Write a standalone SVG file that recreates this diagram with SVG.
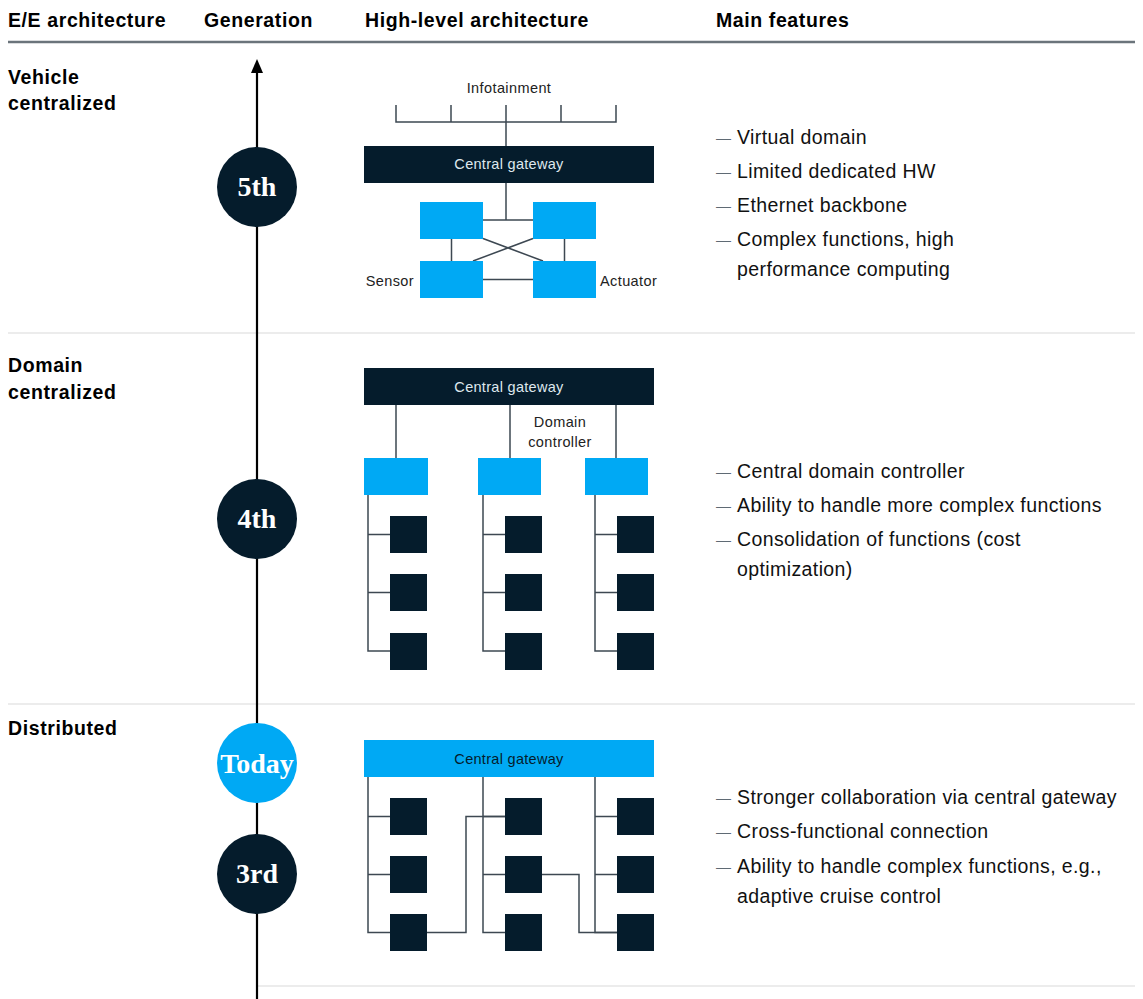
<svg xmlns="http://www.w3.org/2000/svg" width="1143" height="999" viewBox="0 0 1143 999">
<style>
.hdr{font-family:"Liberation Sans",Arial,sans-serif;font-weight:bold;font-size:19.5px;letter-spacing:0.6px;fill:#000}
.sec{font-family:"Liberation Sans",Arial,sans-serif;font-weight:bold;font-size:19.5px;letter-spacing:0.6px;fill:#000}
.feat{font-family:"Liberation Sans",Arial,sans-serif;font-size:19.5px;letter-spacing:0.4px;fill:#111}
.dash{font-family:"Liberation Sans",Arial,sans-serif;font-size:15px;fill:#5f6a74}
.lbl{font-family:"Liberation Sans",Arial,sans-serif;font-size:14.5px;letter-spacing:0.4px;fill:#222}
.gwt{font-family:"Liberation Sans",Arial,sans-serif;font-size:14.5px;letter-spacing:0.3px;fill:#dfe8ee;text-anchor:middle}
.gwtd{font-family:"Liberation Sans",Arial,sans-serif;font-size:14.5px;letter-spacing:0.3px;fill:#051c2c;text-anchor:middle}
.gen{font-family:"Liberation Serif","Times New Roman",serif;font-weight:bold;font-size:28px;fill:#fff;text-anchor:middle}
.dark{fill:#051c2c}
.blue{fill:#00a9f4}
.ln{stroke:#3d4852;stroke-width:1.5;fill:none}
.sep{stroke:#d9d9d9;stroke-width:1.2}
</style>
<rect width="1143" height="999" fill="#fff"/>

<g id="header">
<text class="hdr" x="8" y="27">E/E architecture</text>
<text class="hdr" x="204" y="27">Generation</text>
<text class="hdr" x="365" y="27">High-level architecture</text>
<text class="hdr" x="716" y="27">Main features</text>
<line x1="8" y1="42" x2="1135" y2="42" stroke="#6b747b" stroke-width="2.5"/>
</g>

<g id="separators">
<line class="sep" x1="8" y1="333" x2="1135" y2="333"/>
<line class="sep" x1="8" y1="704" x2="1135" y2="704"/>
<line class="sep" x1="258" y1="986" x2="1135" y2="986"/>
</g>

<g id="sections">
<text class="sec" x="8" y="84">Vehicle</text>
<text class="sec" x="8" y="110">centralized</text>
<text class="sec" x="8" y="372">Domain</text>
<text class="sec" x="8" y="399">centralized</text>
<text class="sec" x="8" y="735">Distributed</text>
</g>

<g id="timeline">
<line x1="257" y1="999" x2="257" y2="73" stroke="#000" stroke-width="2.2"/>
<path d="M251,73 L257,59 L263,73 Z" fill="#000"/>
</g>

<g id="gen-5th"><circle cx="257" cy="187" r="40" class="dark"/><text class="gen" x="257" y="196">5th</text></g>
<g id="gen-4th"><circle cx="257" cy="519" r="40" class="dark"/><text class="gen" x="257" y="528">4th</text></g>
<g id="gen-today"><circle cx="257" cy="763" r="40" class="blue"/><text class="gen" x="257" y="773">Today</text></g>
<g id="gen-3rd"><circle cx="257" cy="874" r="40" class="dark"/><text class="gen" x="257" y="883">3rd</text></g>

<g id="connectors">
<path class="ln" d="M396,105 V122 H616 V105 M451,105 V122 M506,105 V146 M561,105 V122"/>
<path class="ln" d="M506,183 V220 M483,220 H533"/>
<path class="ln" d="M451.5,239 V261 M564.5,239 V261 M483,279.5 H533"/>
<path class="ln" d="M483,238.5 L543,261 M533,238.5 L473,261"/>
<path class="ln" d="M396,404 V458 M510,404 V458 M616,404 V458"/>
<path class="ln" d="M368,495 V651 H390 M368,534.5 H390 M368,592.5 H390"/>
<path class="ln" d="M483,495 V651 H505 M483,534.5 H505 M483,592.5 H505"/>
<path class="ln" d="M595,495 V651 H617 M595,534.5 H617 M595,592.5 H617"/>
<path class="ln" d="M368,777 V932.5 H390 M368,816.5 H390 M368,874.5 H390"/>
<path class="ln" d="M483,777 V932.5 H505 M483,816.5 H505 M483,874.5 H505"/>
<path class="ln" d="M595,777 V932.5 H617 M595,816.5 H617 M595,874.5 H617"/>
<path class="ln" d="M427,932.5 H466 V816.5 H505"/>
<path class="ln" d="M542,874.5 H579 V932.5 H617"/>
</g>

<g id="arch-5th">
<text class="lbl" x="509" y="93" text-anchor="middle">Infotainment</text>
<rect x="364" y="146" width="290" height="37" class="dark"/>
<text class="gwt" x="509" y="169">Central gateway</text>
<rect x="420" y="202" width="63" height="37" class="blue"/>
<rect x="533" y="202" width="63" height="37" class="blue"/>
<rect x="420" y="261" width="63" height="37" class="blue"/>
<rect x="533" y="261" width="63" height="37" class="blue"/>
<text class="lbl" x="414" y="286" text-anchor="end">Sensor</text>
<text class="lbl" x="600" y="286">Actuator</text>
</g>

<g id="arch-4th">
<rect x="364" y="368" width="290" height="37" class="dark"/>
<text class="gwt" x="509" y="392">Central gateway</text>
<text class="lbl" x="560" y="427" text-anchor="middle">Domain</text>
<text class="lbl" x="560" y="447" text-anchor="middle">controller</text>
<rect x="364" y="458" width="64" height="37" class="blue"/>
<rect x="478" y="458" width="63" height="37" class="blue"/>
<rect x="585" y="458" width="63" height="37" class="blue"/>
<rect x="390" y="516" width="37" height="37" class="dark"/>
<rect x="390" y="574" width="37" height="37" class="dark"/>
<rect x="390" y="633" width="37" height="37" class="dark"/>
<rect x="505" y="516" width="37" height="37" class="dark"/>
<rect x="505" y="574" width="37" height="37" class="dark"/>
<rect x="505" y="633" width="37" height="37" class="dark"/>
<rect x="617" y="516" width="37" height="37" class="dark"/>
<rect x="617" y="574" width="37" height="37" class="dark"/>
<rect x="617" y="633" width="37" height="37" class="dark"/>
</g>

<g id="arch-3rd">
<rect x="364" y="740" width="290" height="37" class="blue"/>
<text class="gwtd" x="509" y="764">Central gateway</text>
<rect x="390" y="798" width="37" height="37" class="dark"/>
<rect x="390" y="856" width="37" height="37" class="dark"/>
<rect x="390" y="914" width="37" height="37" class="dark"/>
<rect x="505" y="798" width="37" height="37" class="dark"/>
<rect x="505" y="856" width="37" height="37" class="dark"/>
<rect x="505" y="914" width="37" height="37" class="dark"/>
<rect x="617" y="798" width="37" height="37" class="dark"/>
<rect x="617" y="856" width="37" height="37" class="dark"/>
<rect x="617" y="914" width="37" height="37" class="dark"/>
</g>

<g id="features-5th">
<text class="dash" x="716" y="143">—</text><text class="feat" x="737" y="144">Virtual domain</text>
<text class="dash" x="716" y="177">—</text><text class="feat" x="737" y="178">Limited dedicated HW</text>
<text class="dash" x="716" y="211">—</text><text class="feat" x="737" y="212">Ethernet backbone</text>
<text class="dash" x="716" y="245">—</text><text class="feat" x="737" y="246">Complex functions, high</text>
<text class="feat" x="737" y="276">performance computing</text>
</g>

<g id="features-4th">
<text class="dash" x="716" y="477">—</text><text class="feat" x="737" y="478">Central domain controller</text>
<text class="dash" x="716" y="511">—</text><text class="feat" x="737" y="512">Ability to handle more complex functions</text>
<text class="dash" x="716" y="545">—</text><text class="feat" x="737" y="546">Consolidation of functions (cost</text>
<text class="feat" x="737" y="576">optimization)</text>
</g>

<g id="features-3rd">
<text class="dash" x="716" y="803">—</text><text class="feat" x="737" y="804">Stronger collaboration via central gateway</text>
<text class="dash" x="716" y="837">—</text><text class="feat" x="737" y="838">Cross-functional connection</text>
<text class="dash" x="716" y="872">—</text><text class="feat" x="737" y="873">Ability to handle complex functions, e.g.,</text>
<text class="feat" x="737" y="903">adaptive cruise control</text>
</g>
</svg>
